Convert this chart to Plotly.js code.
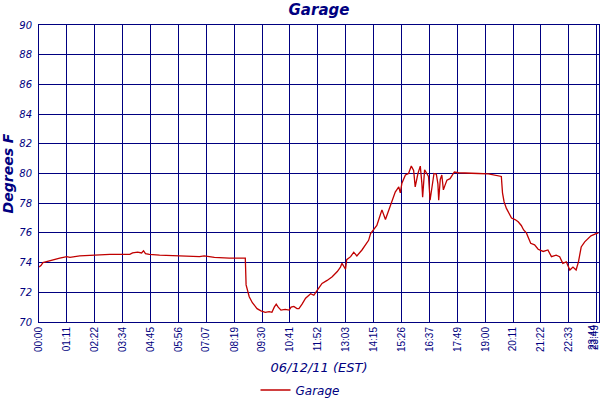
<!DOCTYPE html>
<html>
<head>
<meta charset="utf-8">
<script src="https://cdn.plot.ly/plotly-3.0.1.min.js"></script>
<style>
  html, body { margin: 0; padding: 0; background: #fff; }
  #chart { width: 600px; height: 400px; }
</style>
</head>
<body>
<div id="chart"></div>
<script>
// minutes after midnight, 06/12/11
var minutes = [
    0, 5, 10, 23, 41, 53, 71, 79, 104, 130, 155, 181, 206, 232, 239, 252, 262, 267, 272, 282,
    308, 346, 384, 410, 422, 448, 486, 527, 529, 532, 537, 545, 552, 557, 567, 578, 588, 595,
    601, 606, 611, 618, 629, 639, 644, 651, 659, 664, 672, 681, 694, 702, 711, 723, 736, 749,
    762, 770, 774, 783, 786, 796, 804, 812, 825, 834, 842, 847, 855, 863, 868, 876, 885, 893,
    902, 910, 919, 923, 927, 936, 944, 951, 957, 961, 968, 974, 978, 980, 985, 991, 995, 999,
    1005, 1009, 1015, 1019, 1021, 1025, 1029, 1033, 1037, 1042, 1050, 1056, 1061, 1071, 1097,
    1122, 1148, 1165, 1181, 1184, 1188, 1194, 1200, 1207, 1216, 1224, 1232, 1238, 1245, 1256,
    1266, 1275, 1288, 1300, 1309, 1321, 1330, 1338, 1347, 1356, 1364, 1372, 1378, 1385, 1394,
    1402, 1410, 1423, 1429
];
var garage = [
    73.7, 73.8, 74.0, 74.1, 74.2, 74.3, 74.4, 74.35, 74.45, 74.5, 74.52, 74.55, 74.55, 74.55,
    74.65, 74.7, 74.65, 74.8, 74.6, 74.55, 74.5, 74.45, 74.45, 74.4, 74.45, 74.35, 74.3, 74.3,
    72.5, 72.2, 71.7, 71.3, 71.1, 70.9, 70.75, 70.65, 70.7, 70.65, 71.0, 71.2, 71.0, 70.8,
    70.85, 70.8, 71.0, 71.05, 70.9, 70.9, 71.2, 71.6, 71.9, 71.8, 72.15, 72.6, 72.8, 73.05,
    73.4, 73.7, 73.95, 73.55, 74.2, 74.4, 74.7, 74.45, 74.85, 75.2, 75.5, 75.95, 76.2, 76.5,
    76.9, 77.55, 76.9, 77.45, 78.2, 78.75, 79.1, 78.7, 79.35, 79.9, 80.0, 80.5, 80.2, 79.1,
    80.0, 80.5, 79.35, 78.4, 80.25, 80.0, 79.8, 78.2, 79.3, 80.0, 79.95, 79.3, 78.2, 79.6,
    79.9, 78.9, 79.2, 79.55, 79.65, 79.9, 80.1, 80.05, 80.0, 80.0, 79.97, 79.9, 79.8, 78.7,
    78.1, 77.65, 77.3, 77.0, 76.9, 76.75, 76.5, 76.2, 76.0, 75.3, 75.2, 74.9, 74.75, 74.85,
    74.4, 74.5, 74.4, 73.95, 74.05, 73.5, 73.7, 73.5, 74.05, 75.05, 75.4, 75.6, 75.8, 75.95, 76.0
];
var tickMinutes = [0, 71, 142, 214, 285, 356, 427, 499, 570, 641, 712, 783, 855, 926, 997,
    1069, 1140, 1211, 1282, 1353];
var tickLabels = ['00:00', '01:11', '02:22', '03:34', '04:45', '05:56', '07:07', '08:19', '09:30',
    '10:41', '11:52', '13:03', '14:15', '15:26', '16:37', '17:49', '19:00', '20:11', '21:22',
    '22:33'];
// the last two ticks sit on the right edge, their labels overlap
var endTickMinutes = [1424, 1429];
var endTickLabels = ['23:44', '23:49'];
var yTicks = [70, 72, 74, 76, 78, 80, 82, 84, 86, 88, 90];

var navy = '#000080';
var fontFamily = '"DejaVu Sans", Verdana, sans-serif';
var xRange = [0, 1430.5];

var traces = [{
    x: minutes,
    y: garage,
    name: '<i>Garage</i>',
    mode: 'lines',
    line: { color: '#c00000', width: 1.3 }
}, {
    // empty helper so the overlaid end-tick axis gets drawn
    x: endTickMinutes,
    y: [null, null],
    xaxis: 'x2',
    mode: 'lines',
    showlegend: false,
    hoverinfo: 'skip'
}];

function timeAxis(vals, labels) {
    return {
        range: xRange,
        tickmode: 'array',
        tickvals: vals,
        ticktext: labels,
        tickangle: -90,
        ticklabeloverflow: 'allow',
        tickfont: { family: 'Liberation Sans, Arial, sans-serif', size: 10, color: navy },
        ticks: '',
        showgrid: true,
        gridcolor: navy,
        gridwidth: 1,
        zeroline: false
    };
}

var xaxis = timeAxis(tickMinutes, tickLabels);
xaxis.showline = true;
xaxis.linecolor = navy;
xaxis.linewidth = 1;
xaxis.mirror = true;
xaxis.title = {
    text: '<i>06/12/11 (EST)</i>',
    font: { size: 13, color: navy, family: fontFamily },
    standoff: 12
};

var xaxis2 = timeAxis(endTickMinutes, endTickLabels);
xaxis2.overlaying = 'x';
xaxis2.anchor = 'y';
xaxis2.side = 'bottom';
xaxis2.ticklabelshift = -4;
xaxis2.showline = false;

var layout = {
    width: 600,
    height: 400,
    margin: { l: 39, r: 1, t: 25, b: 78, pad: 0 },
    paper_bgcolor: '#ffffff',
    plot_bgcolor: '#ffffff',
    font: { family: fontFamily, color: navy },
    title: {
        text: '<b><i>Garage</i></b>',
        font: { size: 15, color: navy, family: fontFamily },
        x: 0.5, xref: 'paper', xanchor: 'center',
        y: 0.975, yref: 'container', yanchor: 'middle'
    },
    xaxis: xaxis,
    xaxis2: xaxis2,
    yaxis: {
        range: [70, 90],
        tickmode: 'array',
        tickvals: yTicks,
        ticktext: yTicks.map(function (v) { return '<i>' + v + '</i>'; }),
        tickfont: { size: 10, color: navy, family: fontFamily },
        ticks: '',
        ticklabelstandoff: 4,
        showgrid: true,
        gridcolor: navy,
        gridwidth: 1,
        zeroline: false,
        showline: true,
        linecolor: navy,
        linewidth: 1,
        mirror: true,
        title: {
            text: '<b><i>Degrees F</i></b>',
            font: { size: 14, color: navy, family: fontFamily },
            standoff: 6
        }
    },
    showlegend: true,
    legend: {
        orientation: 'h',
        x: 0.5, xref: 'container', xanchor: 'center',
        y: 0.025, yref: 'container', yanchor: 'middle',
        font: { size: 12, color: navy, family: fontFamily },
        itemwidth: 30
    }
};

Plotly.newPlot('chart', traces, layout, { displayModeBar: false, staticPlot: true });
</script>
</body>
</html>
